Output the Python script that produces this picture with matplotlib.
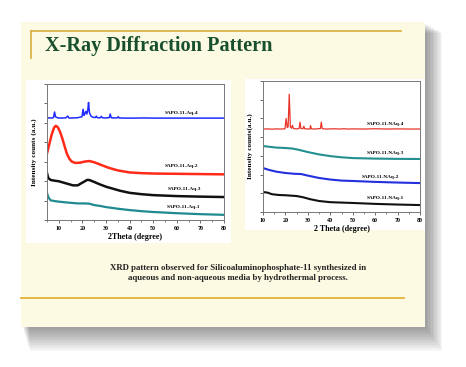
import numpy as np
import matplotlib
matplotlib.use("Agg")
import matplotlib.pyplot as plt
from matplotlib.patches import Rectangle

W, H = 466, 367

# ---- data (intensity in arbitrary units, 0-100) ----
aq4_x = [5, 6, 7, 7.8, 8.2, 8.6, 9.5, 11, 13, 13.8, 14.2, 14.6, 16, 18, 19.8, 20.3, 20.7, 21.1,
         21.5, 21.9, 22.3, 22.6, 23, 23.6, 24.5, 25.5, 25.9, 26.3, 27.5, 28, 28.5, 30, 31.4, 31.8,
         32.2, 33, 34.8, 35.2, 35.6, 38, 42, 46, 50, 55, 60, 65, 70, 75, 80]
aq4_y = [75, 75.2, 75, 75.5, 79.5, 76, 75.2, 75, 75.2, 76.5, 75.3, 75, 75.1, 75.3, 76, 81.5, 77,
         78.5, 80, 78, 81, 86.5, 79, 76.5, 75.6, 75.4, 76.5, 75.3, 75.2, 76.3, 75.2, 75.1, 75.4,
         78, 75.3, 75.1, 75.2, 76, 75.1, 75, 75, 75.1, 75, 75, 75, 75, 75, 75, 75]

aq2_x = [5, 6, 7, 8, 8.7, 9.5, 10.5, 11.5, 12.5, 13.5, 14.5, 15.5, 17, 19, 21, 23, 25, 28, 31,
         35, 40, 45, 50, 60, 70, 80]
aq2_y = [49, 56, 63, 68, 69.3, 68.5, 65, 60, 54, 48.5, 45, 43, 42, 42.2, 43, 43.4, 42.5, 40.5,
         38.5, 36.5, 35, 34.5, 34.2, 34, 33.8, 33.6]

aq3_x = [5, 5.5, 6.5, 8, 10, 12, 14, 16, 18, 20, 22, 23, 25, 27, 30, 33, 36, 40, 45, 50, 60, 70, 80]
aq3_y = [34.5, 31, 29.5, 29, 28.5, 27.5, 26.5, 25.5, 25.5, 27.5, 29.5, 29.4, 28, 26.5, 24.5, 23,
         21.5, 20, 19, 18.3, 17.6, 17.2, 16.9]

aq1_x = [5, 5.5, 6.5, 8, 10, 14, 18, 21, 23, 25, 28, 30, 33, 35, 40, 45, 50, 60, 70, 80]
aq1_y = [20, 17, 14.5, 14, 13.5, 12.8, 12.2, 12.2, 12, 11, 10.2, 9.5, 8.8, 8.3, 7.3, 6.5, 5.9,
         5, 4.3, 3.8]

naq4_x = [10, 12, 14, 16, 18, 19.8, 20.3, 20.8, 21.2, 21.7, 22.2, 22.7, 23.1, 23.6, 25, 26.1,
          26.5, 26.9, 27.8, 28.2, 28.6, 30, 30.9, 31.2, 31.6, 33, 35.6, 36, 36.4, 38, 40, 42, 44,
          46, 48, 50, 55, 60, 65, 70, 75, 80]
naq4_y = [63.4, 63.5, 63.3, 63.5, 63.4, 63.6, 71.5, 64.5, 65, 90, 65, 64, 66.2, 63.8, 63.5, 63.8,
          68.7, 63.8, 63.6, 65.5, 63.6, 63.4, 63.5, 66, 63.5, 63.4, 63.8, 68.7, 63.7, 63.4, 63.5,
          63.6, 63.4, 63.6, 63.4, 63.5, 63.4, 63.6, 63.4, 63.5, 63.4, 63.4]

naq3_x = [10, 13, 16, 20, 23, 26, 30, 35, 40, 45, 50, 60, 70, 80]
naq3_y = [50.4, 49.8, 49.2, 48.9, 48.5, 47.5, 45.8, 44, 42.7, 41.8, 41.2, 40.8, 40.6, 40.5]

naq2_x = [10, 13, 16, 20, 24, 27, 30, 35, 40, 45, 50, 60, 70, 80]
naq2_y = [33.6, 32, 30.8, 29.8, 29.2, 29, 27.8, 26, 24.8, 24, 23.7, 23, 22.5, 22.1]

naq1_x = [10, 12, 14, 17, 20, 25, 28, 31, 35, 40, 50, 60, 70, 80]
naq1_y = [15.3, 14.8, 13.6, 13, 12.8, 12.2, 11.2, 9.8, 8.4, 7.5, 6.9, 6.2, 5.7, 5.3]

left_labels = ["SAPO-11-Aq-4", "SAPO-11-Aq-2", "SAPO-11-Aq-3", "SAPO-11-Aq-1"]
right_labels = ["SAPO-11-NAq-4", "SAPO-11-NAq-3", "SAPO-11-NAq-2", "SAPO-11-NAq-1"]

title = "X-Ray Diffraction Pattern"
caption = ("XRD pattern observed for Silicoaluminophosphate-11 synthesized in\n"
           "aqueous and non-aqueous media by hydrothermal process.")

SERIF = "Liberation Serif"


def px_rect(x0, y0, x1, y1):
    return [x0 / W, 1 - y1 / H, (x1 - x0) / W, (y1 - y0) / H]


fig = plt.figure(figsize=(W / 100, H / 100), dpi=100)
fig.patch.set_facecolor("white")

# slide background, shadow, decorations
bg = fig.add_axes([0, 0, 1, 1])
bg.set_xlim(0, W)
bg.set_ylim(H, 0)
bg.axis("off")
for i in range(12):
    bg.add_patch(Rectangle((21 + 2 + i * 0.6, 22 + 2 + i * 0.8), 404 + i * 0.8, 305 + i * 1.2,
                           facecolor="black", alpha=0.035, lw=0))
bg.add_patch(Rectangle((21, 22), 404, 305, facecolor="#fcfae2", lw=0))
bg.plot([31, 401], [31, 31], color="#d9ac3a", lw=1.2)
bg.plot([31, 31], [31, 58], color="#d9ac3a", lw=1.2)
bg.plot([21, 404], [298, 298], color="#e2b23a", lw=1.3)
bg.text(45, 46, title, fontsize=14.6, fontweight="bold", family=SERIF, color="#184f2e",
        va="center", ha="left")
bg.text(238, 273, caption, fontsize=6.3, fontweight="bold", family=SERIF, color="#222222",
        va="center", ha="center", linespacing=1.3)
# white chart panels
bg.add_patch(Rectangle((26, 80), 205, 163, facecolor="white", lw=0))
bg.add_patch(Rectangle((245, 79), 180, 151, facecolor="white", lw=0))


def style(ax, xlim, major):
    ax.set_xlim(*xlim)
    ax.set_ylim(0, 100)
    ax.set_facecolor("white")
    ax.set_xticks(major)
    ax.set_xticks(np.arange(xlim[0], xlim[1] + 1, 5), minor=True)
    ax.set_yticks(np.arange(0, 101, 14.3))
    ax.set_yticklabels([])
    ax.tick_params(axis="both", which="major", length=2.5, width=0.6, color="#555555", pad=1.5,
                   labelsize=4.3)
    ax.tick_params(axis="both", which="minor", length=1.5, width=0.5, color="#555555")
    for lab in ax.get_xticklabels():
        lab.set_fontweight("bold")
        lab.set_family(SERIF)
    for sp in ax.spines.values():
        sp.set_color("#777777")
        sp.set_linewidth(0.7)


# left chart: aqueous media
ax1 = fig.add_axes(px_rect(47, 84, 224, 220))
ax1.plot(aq4_x, aq4_y, color="#1f2bff", lw=1.1)
ax1.plot(aq2_x, aq2_y, color="#ff2a18", lw=1.8)
ax1.plot(aq3_x, aq3_y, color="#111111", lw=1.8)
ax1.plot(aq1_x, aq1_y, color="#1f8a8f", lw=1.6)
style(ax1, (5, 80), [10, 20, 30, 40, 50, 60, 70, 80])
ax1.set_xlabel("2Theta (degree)", fontsize=5.8, fontweight="bold", family=SERIF, labelpad=2)
ax1.set_ylabel("Intensity counts (a.u.)", fontsize=5.2, fontweight="bold", family=SERIF,
               labelpad=3)
for lab, (lx, ly) in zip(left_labels, [(62, 79), (62, 40), (63, 23), (63, 9.5)]):
    ax1.text(lx, ly, lab, fontsize=3.8, fontweight="bold", family=SERIF, ha="center",
             va="center")

# right chart: non-aqueous media
ax2 = fig.add_axes(px_rect(263, 81, 420, 212))
ax2.plot(naq4_x, naq4_y, color="#e8352a", lw=0.9)
ax2.plot(naq3_x, naq3_y, color="#23908f", lw=1.5)
ax2.plot(naq2_x, naq2_y, color="#2330dd", lw=1.5)
ax2.plot(naq1_x, naq1_y, color="#111111", lw=1.5)
style(ax2, (10, 80), [10, 20, 30, 40, 50, 60, 70, 80])
ax2.set_xlabel("2 Theta (degree)", fontsize=5.8, fontweight="bold", family=SERIF, labelpad=2)
ax2.set_ylabel("Intensity counts(a.u.)", fontsize=5.2, fontweight="bold", family=SERIF,
               labelpad=3)
for lab, (lx, ly) in zip(right_labels, [(64.5, 67.5), (64.5, 45), (62.5, 27), (64.5, 10.5)]):
    ax2.text(lx, ly, lab, fontsize=3.8, fontweight="bold", family=SERIF, ha="center",
             va="center")

fig.savefig("out.png", dpi=100, facecolor=fig.get_facecolor())
